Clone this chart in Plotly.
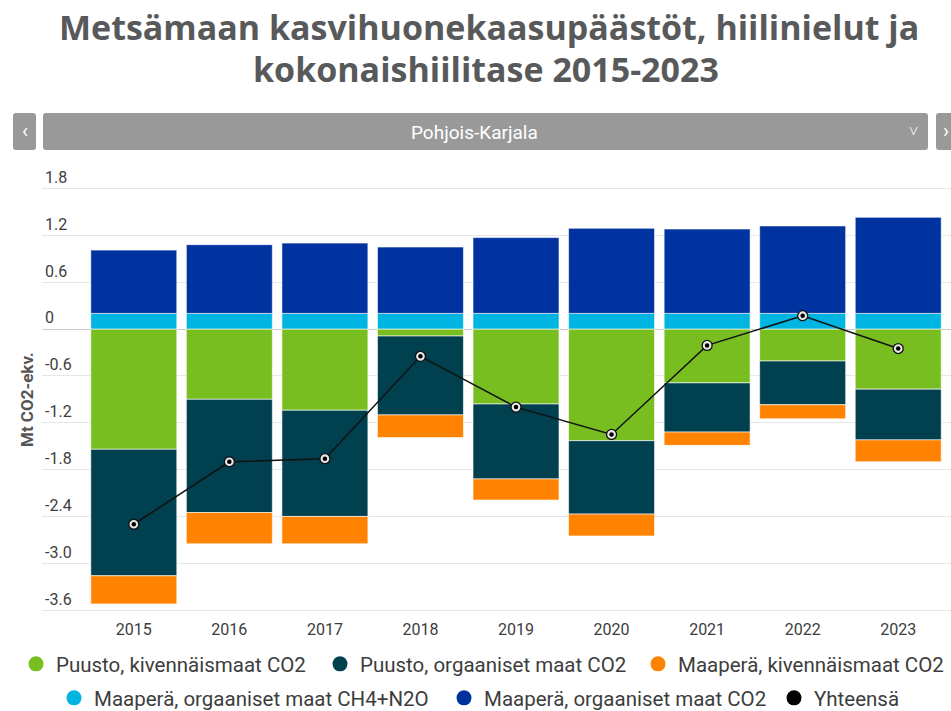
import plotly.graph_objects as go

# Vuodet ja sarjat (Mt CO2-ekv.), Pohjois-Karjala
years = ["2015", "2016", "2017", "2018", "2019", "2020", "2021", "2022", "2023"]
puusto_kivennais = [-1.54, -0.90, -1.04, -0.09, -0.96, -1.43, -0.69, -0.41, -0.77]
puusto_orgaaniset = [-1.62, -1.45, -1.36, -1.01, -0.96, -0.94, -0.63, -0.56, -0.65]
maapera_kivennais = [-0.36, -0.40, -0.35, -0.29, -0.27, -0.28, -0.17, -0.18, -0.28]
maapera_org_ch4n2o = [0.20, 0.20, 0.20, 0.20, 0.20, 0.20, 0.20, 0.20, 0.20]
maapera_org_co2 = [0.81, 0.88, 0.90, 0.85, 0.97, 1.09, 1.08, 1.12, 1.23]
yhteensa = [-2.50, -1.70, -1.66, -0.35, -1.00, -1.35, -0.21, 0.17, -0.25]

y_tickvals = [-3.6, -3.0, -2.4, -1.8, -1.2, -0.6, 0, 0.6, 1.2, 1.8]
y_ticktext = ["-3.6", "-3.0", "-2.4", "-1.8", "-1.2", "-0.6", "0", "0.6", "1.2", "1.8"]

title_lines = ["Metsämaan kasvihuonekaasupäästöt, hiilinielut ja",
               "kokonaishiilitase 2015-2023"]

W, H = 951, 711
ML, MR, MT, MB = 42, 0, 158, 99
PW, PH = W - ML - MR, H - MT - MB
ZERO_Y, UNIT = 329.0, 78.1  # zero line row and pixels per Mt

FONT = "Roboto"
TXT = "#3d3d3d"


def px_x(x):
    return (x - ML) / PW


def px_y(y):
    return (H - MB - y) / PH


def rounded_rect(x0, y0, x1, y1, r=3):
    # path in paper units for a pixel-space rectangle with rounded corners
    X, Y = px_x, px_y
    return (
        f"M {X(x0 + r)} {Y(y0)} L {X(x1 - r)} {Y(y0)} Q {X(x1)} {Y(y0)} {X(x1)} {Y(y0 + r)} "
        f"L {X(x1)} {Y(y1 - r)} Q {X(x1)} {Y(y1)} {X(x1 - r)} {Y(y1)} "
        f"L {X(x0 + r)} {Y(y1)} Q {X(x0)} {Y(y1)} {X(x0)} {Y(y1 - r)} "
        f"L {X(x0)} {Y(y0 + r)} Q {X(x0)} {Y(y0)} {X(x0 + r)} {Y(y0)} Z"
    )


series = [
    ("Puusto, kivennäismaat CO2", puusto_kivennais, "#78BE20"),
    ("Puusto, orgaaniset maat CO2", puusto_orgaaniset, "#00404F"),
    ("Maaperä, kivennäismaat CO2", maapera_kivennais, "#FF8200"),
    ("Maaperä, orgaaniset maat CH4+N2O", maapera_org_ch4n2o, "#00B5E2"),
    ("Maaperä, orgaaniset maat CO2", maapera_org_co2, "#0032A0"),
]

# selitteen paikat: (symbolin keskikohta x, rivin keskikohta y) pikseleinä
legend_spots = [(36, 664), (340, 664), (658, 664), (74, 698), (464, 698), (794, 698)]

fig = go.Figure()

for name, vals, color in series:
    fig.add_trace(go.Bar(
        x=years, y=vals, name=name, showlegend=False,
        marker=dict(color=color, line=dict(color="rgba(255,255,255,0.6)", width=1)),
    ))

# Yhteensä: viiva ja pisteet
fig.add_trace(go.Scatter(
    x=years, y=yhteensa, name="Yhteensä", mode="lines+markers", showlegend=False,
    line=dict(color="#111111", width=1.5),
    marker=dict(size=10, color="#e8e8e8", line=dict(color="#111111", width=1.3)),
))
fig.add_trace(go.Scatter(
    x=years, y=yhteensa, mode="markers", showlegend=False, hoverinfo="skip",
    marker=dict(size=4.5, color="#000000"),
))

# Selitteen merkit ympyröinä, kukin omassa selitteessään
legend_items = [(n, c) for n, _, c in series] + [("Yhteensä", "#000000")]
legend_layout = {}
for i, ((name, color), (sx, sy)) in enumerate(zip(legend_items, legend_spots)):
    key = "legend" if i == 0 else f"legend{i + 1}"
    fig.add_trace(go.Scatter(
        x=[None], y=[None], mode="markers", name=name, legend=key,
        marker=dict(symbol="circle", size=15, color=color),
    ))
    legend_layout[key] = dict(
        orientation="h", x=px_x(sx - 20), xanchor="left", y=px_y(sy), yanchor="middle",
        font=dict(family=FONT, size=20.5, color=TXT), itemwidth=30,
        bgcolor="rgba(0,0,0,0)",
    )

shapes = [
    dict(type="path", xref="paper", yref="paper", path=rounded_rect(13, 113, 36, 150),
         fillcolor="#999999", line=dict(width=0), layer="above"),
    dict(type="path", xref="paper", yref="paper", path=rounded_rect(43, 113, 928, 150),
         fillcolor="#999999", line=dict(width=0), layer="above"),
    dict(type="path", xref="paper", yref="paper", path=rounded_rect(936, 113, 960, 150),
         fillcolor="#999999", line=dict(width=0), layer="above"),
]

title_font = dict(family="Open Sans", size=34, color="#58595B", weight="bold")
annotations = [
    dict(text=title_lines[0], x=px_x(489), y=px_y(27), xref="paper", yref="paper",
         showarrow=False, font=title_font, xanchor="center", yanchor="middle"),
    dict(text=title_lines[1], x=px_x(486), y=px_y(69), xref="paper", yref="paper",
         showarrow=False, font=title_font, xanchor="center", yanchor="middle"),
    dict(text="Pohjois-Karjala", x=px_x(474), y=px_y(132), xref="paper", yref="paper",
         showarrow=False, font=dict(family=FONT, size=19, color="white"),
         xanchor="center", yanchor="middle"),
    dict(text="‹", x=px_x(24.5), y=px_y(131), xref="paper", yref="paper",
         showarrow=False, font=dict(family=FONT, size=20, color="white"),
         xanchor="center", yanchor="middle"),
    dict(text="›", x=px_x(946), y=px_y(131), xref="paper", yref="paper",
         showarrow=False, font=dict(family=FONT, size=20, color="white"),
         xanchor="center", yanchor="middle"),
    dict(text="˅", x=px_x(913), y=px_y(131), xref="paper", yref="paper",
         showarrow=False, font=dict(family=FONT, size=16, color="white"),
         xanchor="center", yanchor="middle"),
    dict(text="Mt CO2-ekv.", x=px_x(27), y=px_y(400), xref="paper", yref="paper",
         showarrow=False, textangle=-90,
         font=dict(family=FONT, size=17, color="#555555", weight="bold"),
         xanchor="center", yanchor="middle"),
]

y_top = (ZERO_Y - MT) / UNIT
y_bottom = -(H - MB - ZERO_Y) / UNIT

fig.update_layout(
    width=W, height=H,
    margin=dict(l=ML, r=MR, t=MT, b=MB, autoexpand=False),
    paper_bgcolor="white", plot_bgcolor="white",
    barmode="relative", bargap=0.1,
    font=dict(family=FONT, color=TXT),
    xaxis=dict(
        type="category", range=[-0.5 - 44 / 95.5, 8.5 + 5 / 95.5],
        showgrid=False, showline=False, ticks="", ticklabelstandoff=6,
        tickfont=dict(family=FONT, size=16, color=TXT),
    ),
    yaxis=dict(
        range=[y_bottom, y_top], tickvals=y_tickvals, ticktext=y_ticktext,
        ticklabelposition="inside top", showgrid=True, gridcolor="#e6e6e6", gridwidth=1,
        zeroline=True, zerolinecolor="#cccccc", zerolinewidth=1,
        tickfont=dict(family=FONT, size=16, color=TXT), showline=False, ticks="",
    ),
    shapes=shapes,
    annotations=annotations,
    **legend_layout,
)

fig.write_html("out.html")
